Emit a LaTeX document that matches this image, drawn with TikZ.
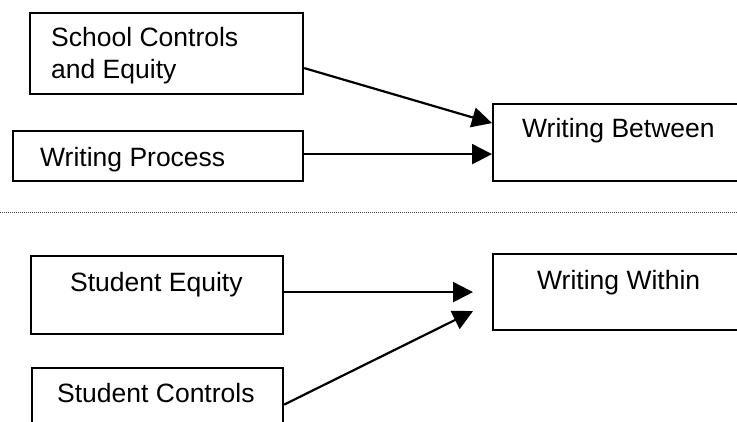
\documentclass[tikz,border=0pt]{standalone}
\usepackage{fontspec}
\setmainfont{Liberation Sans}
\usetikzlibrary{arrows.meta}
\begin{document}
\begin{tikzpicture}[x=1pt,y=-1pt,
  box/.style={draw=black, line width=2.2pt, rectangle, inner sep=0pt, anchor=north west},
  lbl/.style={font=\fontsize{26.5}{32}\selectfont, inner sep=0pt, anchor=base west, align=left},
  conn/.style={line width=2.2pt, -{Triangle[length=20pt,width=20pt]}}]
\useasboundingbox (0,0) rectangle (737,422);
\clip (0,0) rectangle (737,422);
\fill[white] (0,0) rectangle (737,422);
% boxes
\node[box, minimum width=273pt, minimum height=81pt] (sce) at (29,12) {};
\node[box, minimum width=290pt, minimum height=50pt] (wp) at (12,130) {};
\node[box, minimum width=268pt, minimum height=77pt] (wb) at (492,103) {};
\node[box, minimum width=252pt, minimum height=78pt] (se) at (30,255) {};
\node[box, minimum width=251pt, minimum height=73pt] (sc) at (31,367) {};
\node[box, minimum width=268pt, minimum height=76pt] (ww) at (492,253) {};
% labels
\node[lbl] (t1) at (51,47) {School Controls};
\node[lbl] (t1b) at (51,79) {and Equity};
\node[lbl] (t2) at (40,167) {Writing Process};
\node[lbl] (t3) at (522,138) {Writing Between};
\node[lbl] (t4) at (70,292) {Student Equity};
\node[lbl] (t5) at (57,402) {Student Controls};
\node[lbl] (t6) at (537,290) {Writing Within};
% divider
\coordinate (dl) at (0,213);
\coordinate (dr) at (737,213);
\draw[black!70, line width=1pt, dash pattern=on 1pt off 1pt] (dl) -- (dr);
% connectors
\draw[conn] ([yshift=-14.5pt]sce.east) -- ([yshift=19.5pt]wb.west);
\draw[conn] ([yshift=2pt]wp.east) -- ([yshift=-11.5pt]wb.west);
\draw[conn] ([yshift=3pt]se.east) -- ([xshift=-19pt]ww.west);
\draw[conn] (sc.east) -- ([xshift=-19pt,yshift=-19pt]ww.west);
\end{tikzpicture}
\end{document}
